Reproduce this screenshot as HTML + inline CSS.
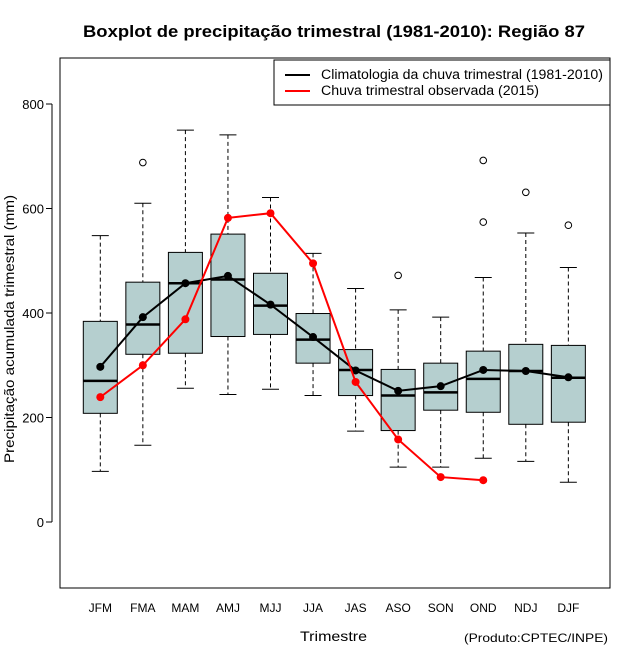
<!DOCTYPE html>
<html><head><meta charset="utf-8"><style>
body{margin:0;background:#fff}
svg{display:block;font-family:"Liberation Sans",Arial,sans-serif}
</style></head><body>
<svg id="c" width="640" height="660" viewBox="0 0 640 660"></svg>
<script>
const categories=["JFM","FMA","MAM","AMJ","MJJ","JJA","JAS","ASO","SON","OND","NDJ","DJF"];
const whiskerLow=[97,147,256,244,254,242,174,105,105,122,116,76];
const q1=[208,321,323,355,359,304,242,175,214,210,187,191];
const median=[270,378,457,464,414,349,291,242,248,274,289,276];
const q3=[384,459,516,551,476,399,330,292,304,327,340,338];
const whiskerHigh=[548,610,750,741,621,514,447,406,392,468,553,487];
const outliers=[[],[688],[],[],[],[],[],[472],[],[692,574],[631],[568]];
const climatology=[297,392,457,471,416,354,290,251,260,291,289,277];
const observed=[239,300,388,582,591,495,268,158,86,80];
const yTicks=[0,200,400,600,800];

const NS="http://www.w3.org/2000/svg";
const svg=document.getElementById('c');
function el(t,a,p){const e=document.createElementNS(NS,t);for(const k in a)e.setAttribute(k,a[k]);(p||svg).appendChild(e);return e;}
const yS=v=>522-v*0.5225;
const xS=i=>100.3+i*42.55;

let f=el('rect',{x:60,y:58,width:550,height:530,fill:'none',stroke:'#000','stroke-width':1});



const ya=el('g',{});


el('line',{x1:52,x2:52,y1:yS(0),y2:yS(800),stroke:'#000'},ya);
yTicks.forEach(v=>{
  el('line',{x1:46,x2:52,y1:yS(v),y2:yS(v),stroke:'#000'},ya);
  const t=el('text',{x:44,y:yS(v)+5,'text-anchor':'end','font-size':13},ya);
  t.textContent=v;
  
  
});

categories.forEach((c,i)=>{
  const x=xS(i);
  const g=el('g',{});
  
  
  el('line',{x1:x,x2:x,y1:yS(whiskerHigh[i]),y2:yS(q3[i]),stroke:'#000','stroke-dasharray':'4,3'},g);
  el('line',{x1:x,x2:x,y1:yS(q1[i]),y2:yS(whiskerLow[i]),stroke:'#000','stroke-dasharray':'4,3'},g);
  el('line',{x1:x-8.5,x2:x+8.5,y1:yS(whiskerHigh[i]),y2:yS(whiskerHigh[i]),stroke:'#000'},g);
  el('line',{x1:x-8.5,x2:x+8.5,y1:yS(whiskerLow[i]),y2:yS(whiskerLow[i]),stroke:'#000'},g);
  el('rect',{x:x-17,y:yS(q3[i]),width:34,height:yS(q1[i])-yS(q3[i]),fill:'#b5cfcf',stroke:'#000'},g);
  el('line',{x1:x-17,x2:x+17,y1:yS(median[i]),y2:yS(median[i]),stroke:'#000','stroke-width':2.5},g);
  outliers[i].forEach(o=>el('circle',{cx:x,cy:yS(o),r:3.3,fill:'none',stroke:'#000'},g));
  const t=el('text',{x:x,y:612,'text-anchor':'middle','font-size':12});
  t.textContent=c;
  
  
});

function series(vals,col,name){
  const g=el('g',{});
  
  
  el('polyline',{points:vals.map((v,i)=>xS(i)+','+yS(v)).join(' '),fill:'none',stroke:col,'stroke-width':2},g);
  vals.forEach((v,i)=>el('circle',{cx:xS(i),cy:yS(v),r:4,fill:col},g));
}
series(climatology,'#000','climatology-line');
series(observed,'#ff0000','observed-2015-line');

const lg=el('g',{});


el('rect',{x:274,y:60,width:336,height:45,fill:'#fff',stroke:'#000'},lg);
el('line',{x1:285,x2:310,y1:75,y2:75,stroke:'#000','stroke-width':2},lg);
el('line',{x1:285,x2:310,y1:91,y2:91,stroke:'#ff0000','stroke-width':2},lg);
let t1=el('text',{x:321,y:79,'font-size':13.5,textLength:282,lengthAdjust:'spacingAndGlyphs'},lg);t1.textContent='Climatologia da chuva trimestral (1981-2010)';
let t2=el('text',{x:321,y:95,'font-size':13.5,textLength:218,lengthAdjust:'spacingAndGlyphs'},lg);t2.textContent='Chuva trimestral observada (2015)';

let ti=el('text',{x:83,y:37,'font-size':17,'font-weight':'bold',textLength:502,lengthAdjust:'spacingAndGlyphs'});
ti.textContent='Boxplot de precipitação trimestral (1981-2010): Região 87';

let xl=el('text',{x:300,y:641,'font-size':14,textLength:67,lengthAdjust:'spacingAndGlyphs'});
xl.textContent='Trimestre';

let yl=el('text',{x:0,y:0,'text-anchor':'middle','font-size':14,transform:'translate(14,329) rotate(-90)',textLength:268,lengthAdjust:'spacingAndGlyphs'});
yl.textContent='Precipitação acumulada trimestral (mm)';

let cr=el('text',{x:464,y:642,'font-size':12,textLength:144,lengthAdjust:'spacingAndGlyphs'});
cr.textContent='(Produto:CPTEC/INPE)';

</script>
</body></html>
